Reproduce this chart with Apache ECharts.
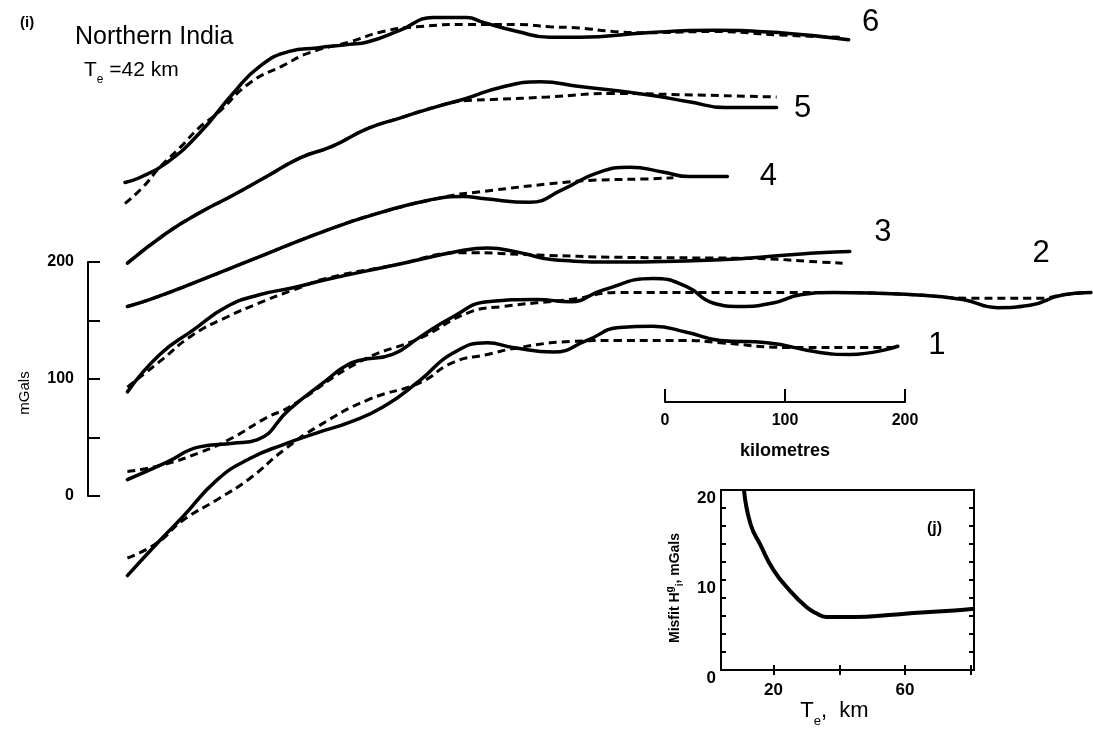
<!DOCTYPE html>
<html lang="en">
  <head>
    <meta charset="UTF-8" />
    <title>Northern India</title>
    <style>
      * {
        margin: 0;
        padding: 0;
      }
      body {
        background: #fff;
      }
    </style>
  </head>
  <body>
    <div id="main" style="width: 1093px; height: 729px;"></div>
    <script src="https://cdn.jsdelivr.net/npm/echarts@6/dist/echarts.min.js"></script>
    <script>
      // profiles: [distance km, gravity mGal as plotted, offsets included]
      // obs = observed (solid), mod = model for Te 42 km (dashed)
      const obs6 = [[-450,268],[-438,272],[-415,285],[-388,310],[-360,344],[-338,367],[-313,380],[-290,383],[-263,386],[-248,388],[-221,398],[-193,409],[-165,409],[-152,405],[-123,397],[-96,392],[-71,392],[-15,396],[40,398],[96,396],[153,390]];
      const mod6 = [[-450,250],[-435,264],[-421,281],[-404,298],[-388,315],[-373,327],[-346,353],[-318,368],[-296,379],[-263,388],[-235,397],[-207,401],[-165,403],[-123,403],[-96,401],[-71,400],[-43,397],[-15,396],[40,397],[96,394],[146,392]];
      const obs5 = [[-448,199],[-415,225],[-388,242],[-360,257],[-332,273],[-304,289],[-277,299],[-248,314],[-221,323],[-193,332],[-165,340],[-138,349],[-104,354],[-71,350],[-15,343],[20,337],[50,332],[93,332]];
      const mod5 = [[-448,199],[-415,225],[-388,242],[-360,257],[-332,273],[-304,289],[-277,299],[-248,314],[-221,323],[-193,332],[-165,338],[-140,339],[-98,341],[-43,344],[13,343],[93,341]];
      const obs4 = [[-448,162],[-429,168],[-388,184],[-332,207],[-277,229],[-238,242],[-196,253],[-168,256],[-150,254],[-113,251],[-85,262],[-57,276],[-29,281],[-2,277],[20,273],[52,273]];
      const mod4 = [[-448,162],[-429,168],[-388,184],[-332,207],[-277,229],[-238,242],[-182,256],[-154,260],[-85,268],[-57,270],[-15,271],[7,272]];
      const obs3 = [[-448,89],[-421,121],[-393,142],[-365,162],[-338,172],[-310,178],[-282,185],[-227,197],[-168,210],[-148,212],[-121,208],[-93,202],[-38,200],[46,202],[102,206],[129,208],[154,209]];
      const mod3 = [[-448,93],[-421,115],[-393,138],[-365,153],[-338,165],[-310,176],[-282,186],[-227,197],[-168,208],[-107,206],[-38,204],[73,203],[129,200],[148,199]];
      const obs2 = [[-448,14],[-415,29],[-388,42],[-360,45],[-340,48],[-313,74],[-282,99],[-268,110],[-254,116],[-227,121],[-204,136],[-177,153],[-148,166],[-107,168],[-79,166],[-52,176],[-10,186],[18,179],[40,165],[63,162],[90,165],[113,172],[140,174],[207,172],[248,168],[277,161],[304,163],[332,172],[355,174]];
      const mod2 = [[-448,21],[-421,26],[-388,37],[-360,50],[-332,67],[-313,76],[-254,115],[-204,135],[-163,157],[-135,162],[-79,168],[-38,174],[46,174],[102,174],[140,174],[207,172],[254,169],[313,169],[332,172],[355,174]];
      const obs1 = [[-448,-68],[-421,-38],[-402,-18],[-373,14],[-346,32],[-318,44],[-290,54],[-263,63],[-235,76],[-204,99],[-177,122],[-148,131],[-127,127],[-93,123],[-65,133],[-38,144],[-10,145],[18,140],[46,133],[85,131],[127,123],[154,121],[194,128]];
      const mod1 = [[-448,-53],[-423,-40],[-402,-21],[-373,-3],[-346,15],[-318,39],[-290,59],[-248,82],[-204,97],[-177,114],[-148,121],[-121,127],[-79,132],[-38,133],[18,133],[46,131],[102,127],[179,127],[193,127]];

      const profileNames = ["1", "2", "3", "4", "5", "6"];
      // where each number sits relative to the end of its line (px)
      const nameOffsets = [[39, -1], [-50, -39], [33, -19], [41, 0], [26, 1], [22, -17]];

      // inset (j): misfit against Te
      const teVals = [11, 13, 16, 20, 25, 30, 33, 36, 45, 55, 65, 75, 81];
      const misfitVals = [20, 16.2, 13.9, 11.1, 8.8, 7.0, 6.3, 5.9, 5.9, 6.1, 6.4, 6.6, 6.8];

      const font = "Liberation Sans";
      const black = "#000";

      function draw() {
        const chart = echarts.init(document.getElementById("main"));
        const observed = [obs1, obs2, obs3, obs4, obs5, obs6];
        const modelled = [mod1, mod2, mod3, mod4, mod5, mod6];

        let series = [];
        for (let i = 0; i < 6; i++) {
          series.push({
            type: "line",
            xAxisIndex: 0,
            yAxisIndex: 0,
            data: modelled[i],
            smooth: 0.5,
            symbol: "none",
            lineStyle: { color: black, width: 3, type: [8, 5] },
          });
          series.push({
            type: "line",
            xAxisIndex: 0,
            yAxisIndex: 0,
            data: observed[i],
            smooth: 0.5,
            symbol: "none",
            lineStyle: { color: black, width: 3.5, cap: "round" },
            endLabel: {
              show: true,
              formatter: profileNames[i],
              distance: 0,
              align: "center",
              verticalAlign: "middle",
              offset: nameOffsets[i],
              fontFamily: font,
              fontSize: 31,
              color: black,
            },
          });
        }
        series.push({
          type: "line",
          xAxisIndex: 3,
          yAxisIndex: 3,
          data: teVals.map((t, i) => [t, misfitVals[i]]),
          smooth: 0.5,
          symbol: "none",
          lineStyle: { color: black, width: 4 },
        });

        const tickStyle = { color: black, width: 2 };

        let option = {
          animation: false,
          backgroundColor: "#fff",
          textStyle: { fontFamily: font, color: black },
          title: [
            { text: "(i)", left: 15, top: 10, textStyle: { fontFamily: font, fontSize: 15, fontWeight: "bold", color: black } },
            { text: "Northern India", left: 70, top: 20, textStyle: { fontFamily: font, fontSize: 25, fontWeight: "normal", color: black } },
            {
              text: "{t|T}{s|e}{t| =42 km}",
              left: 79,
              top: 55,
              textStyle: {
                fontWeight: "normal",
                rich: {
                  t: { fontFamily: font, fontSize: 21, fontWeight: "normal", color: black, lineHeight: 26, verticalAlign: "top" },
                  s: { fontFamily: font, fontSize: 12, fontWeight: "normal", color: black, lineHeight: 26, verticalAlign: "bottom" },
                },
              },
            },
            { text: "(j)", left: 922, top: 516, textStyle: { fontFamily: font, fontSize: 16, fontWeight: "bold", color: black } },
          ],
          grid: [
            { left: 125, top: 4.6, width: 966, height: 690.3 },
            { left: 88, top: 262, width: 20, height: 234 },
            { left: 665, top: 380, width: 240, height: 22 },
            { left: 721, top: 490, width: 253, height: 180, show: true, borderColor: black, borderWidth: 2, backgroundColor: "transparent" },
          ],
          xAxis: [
            { gridIndex: 0, type: "value", min: -450, max: 355, show: false },
            { gridIndex: 1, type: "value", min: 0, max: 1, show: false },
            {
              gridIndex: 2,
              type: "value",
              min: 0,
              max: 200,
              interval: 100,
              splitLine: { show: false },
              axisLine: { lineStyle: tickStyle },
              axisTick: { inside: true, length: 13, lineStyle: tickStyle },
              axisLabel: { fontFamily: font, fontSize: 16, fontWeight: "bold", color: black, margin: 11 },
              name: "kilometres",
              nameLocation: "middle",
              nameGap: 40,
              nameTextStyle: { fontFamily: font, fontSize: 18, fontWeight: "bold", color: black },
            },
            {
              gridIndex: 3,
              type: "value",
              min: 4,
              max: 81,
              splitLine: { show: false },
              axisLine: { lineStyle: tickStyle },
              axisTick: { inside: true, length: 5, customValues: [20, 40, 60, 80], lineStyle: tickStyle },
              axisLabel: { customValues: [20, 60], fontFamily: font, fontSize: 17, fontWeight: "bold", color: black, margin: 12 },
              name: "{t|T}{s|e}{t|,  km}",
              nameLocation: "middle",
              nameGap: 28,
              nameTextStyle: {
                padding: [0, 26, 0, 0],
                rich: {
                  t: { fontFamily: font, fontSize: 22, color: black, lineHeight: 28, verticalAlign: "top" },
                  s: { fontFamily: font, fontSize: 13, color: black, lineHeight: 28, verticalAlign: "bottom" },
                },
              },
            },
            {
              gridIndex: 3,
              type: "value",
              position: "top",
              min: 4,
              max: 81,
              splitLine: { show: false },
              axisLine: { lineStyle: tickStyle },
              axisTick: { inside: true, length: 5, customValues: [20, 40, 60, 80], lineStyle: tickStyle },
              axisLabel: { show: false },
            },
          ],
          yAxis: [
            { gridIndex: 0, type: "value", min: -170, max: 420, show: false },
            {
              gridIndex: 1,
              type: "value",
              min: 0,
              max: 200,
              interval: 50,
              splitLine: { show: false },
              axisLine: { lineStyle: tickStyle },
              axisTick: { inside: true, length: 12, lineStyle: tickStyle },
              axisLabel: {
                fontFamily: font,
                fontSize: 16,
                fontWeight: "bold",
                color: black,
                margin: 14,
                formatter: (v) => (v % 100 === 0 ? String(v) : ""),
              },
              name: "mGals",
              nameLocation: "middle",
              nameRotate: 90,
              nameGap: 56,
              nameTextStyle: { fontFamily: font, fontSize: 15, color: black, padding: [0, 28, 0, 0] },
            },
            { gridIndex: 2, type: "value", min: 0, max: 1, show: false },
            {
              gridIndex: 3,
              type: "value",
              min: 0,
              max: 20,
              splitLine: { show: false },
              axisLine: { lineStyle: tickStyle },
              axisTick: { inside: true, length: 5, customValues: [2, 4, 6, 8, 10, 12, 14, 16, 18], lineStyle: tickStyle },
              axisLabel: { customValues: [0, 10, 20], fontFamily: font, fontSize: 17, fontWeight: "bold", color: black, margin: 5, verticalAlign: "top" },
              name: "{t|Misfit H}{p|g}{b|i}{t|, mGals}",
              nameLocation: "middle",
              nameRotate: 90,
              nameGap: 36,
              nameTextStyle: {
                padding: [0, 16, 0, 0],
                rich: {
                  t: { fontFamily: font, fontSize: 14, fontWeight: "bold", color: black, lineHeight: 20 },
                  p: { fontFamily: font, fontSize: 10, fontWeight: "bold", color: black, lineHeight: 20, verticalAlign: "top" },
                  b: { fontFamily: font, fontSize: 10, fontWeight: "bold", color: black, lineHeight: 20, verticalAlign: "bottom" },
                },
              },
            },
            {
              gridIndex: 3,
              type: "value",
              position: "right",
              min: 0,
              max: 20,
              splitLine: { show: false },
              axisLine: { lineStyle: tickStyle },
              axisTick: { inside: true, length: 5, customValues: [2, 4, 6, 8, 10, 12, 14, 16, 18], lineStyle: tickStyle },
              axisLabel: { show: false },
            },
          ],
          series: series,
        };
        chart.setOption(option);
      }
      draw();
    </script>
  </body>
</html>
